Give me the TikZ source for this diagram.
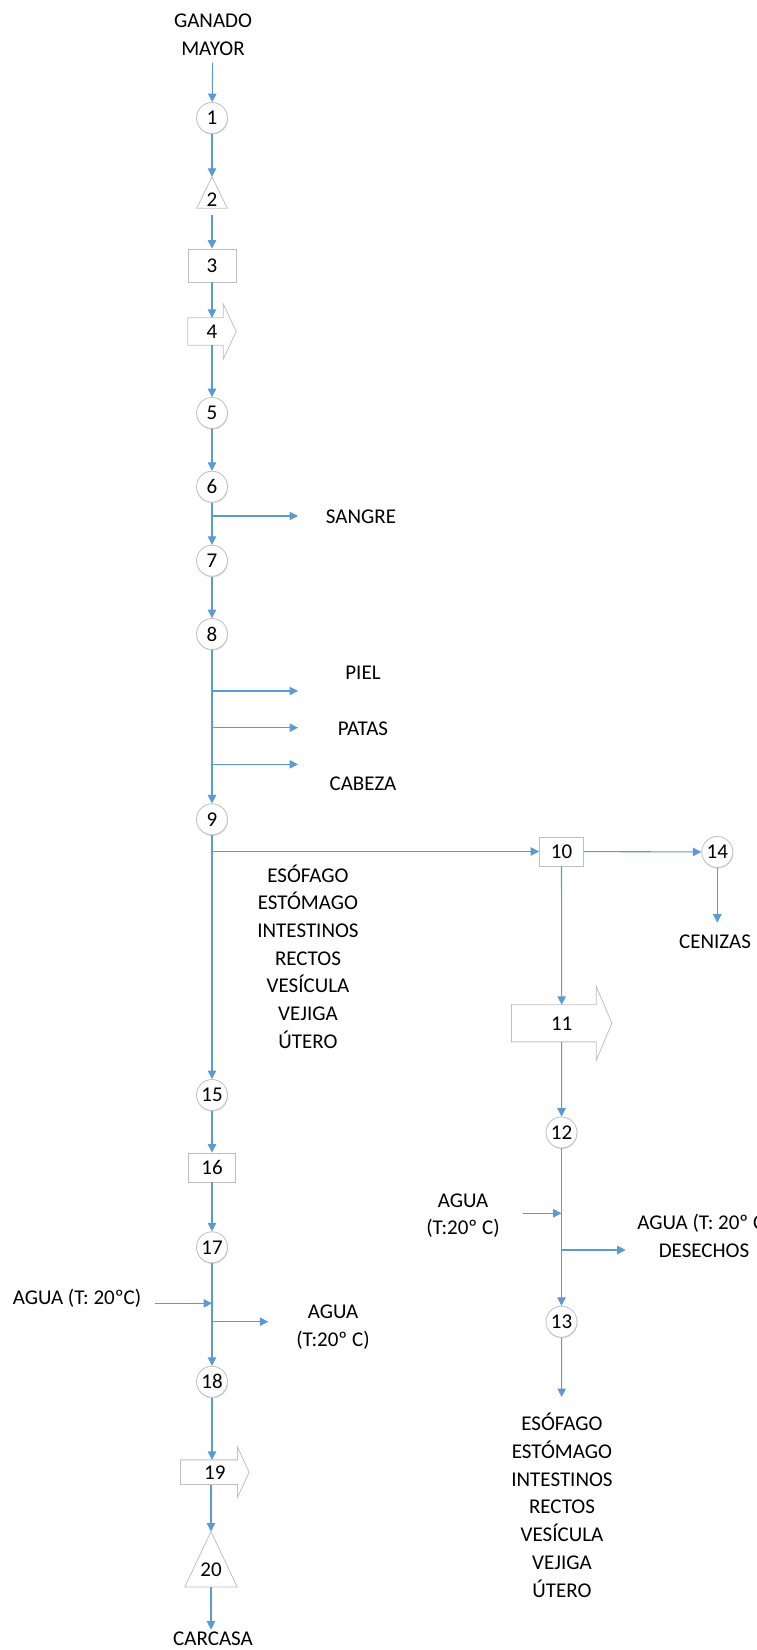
\documentclass[tikz,border=0pt]{standalone}
\usepackage{fontspec}
\setmainfont{Carlito}
\usetikzlibrary{arrows.meta,calc,shadows}
\definecolor{flow}{HTML}{5B9BD5}
\definecolor{edgegray}{HTML}{BFBFBF}
\begin{document}
\begin{tikzpicture}[x=1pt,y=-1pt,
  font=\fontsize{21}{27.7}\selectfont,
  flowline/.style={draw=flow, line width=1.1pt, -{Triangle[length=8.5pt,width=8.5pt]}},
  softshadow/.style={drop shadow={shadow xshift=0.5pt, shadow yshift=-1.2pt, opacity=0.25, fill=black!50}},
  circ/.style={circle, draw=edgegray, line width=0.8pt, fill=white, minimum size=31pt, inner sep=0pt, softshadow},
  boxn/.style={rectangle, draw=edgegray, line width=0.8pt, fill=white, inner sep=0pt, softshadow},
  shp/.style={draw=edgegray, line width=0.8pt},
  lbl/.style={align=center, inner sep=2pt},
  bl/.style={anchor=base, inner sep=2pt}]
\useasboundingbox (0,0) rectangle (757,1650);
\clip (0,0) rectangle (757,1650);

% ---- main column
\node[lbl] (ganado) at (213,34.6) {GANADO\\MAYOR};
\node[circ] (n1) at (212,118) {1};
\node[inner sep=0pt, minimum width=30pt, text height=29pt, text depth=2pt] (n2) at (212,192.5) {2};
\draw[shp] (n2.south west) -- (n2.north) -- (n2.south east) -- cycle;
\node[boxn, minimum width=48pt, minimum height=33pt] (n3) at (212,265.5) {3};
\node[inner sep=0pt, minimum width=48pt, minimum height=27pt] (n4) at (212,331.5) {4};
\draw[shp] (n4.north west) -- ($(n4.north east)+(-13,0)$) -- ++(0,-14) -- (n4.east)
  -- ($(n4.south east)+(-13,14)$) -- ++(0,-14) -- (n4.south west) -- cycle;
\node[circ] (n5) at (212,413) {5};
\node[circ] (n6) at (212,486.7) {6};
\node[circ] (n7) at (212,560.7) {7};
\node[circ] (n8) at (212,634) {8};
\node[circ] (n9) at (212,819.3) {9};
\node[circ] (n15) at (212,1095) {15};
\node[boxn, minimum width=47pt, minimum height=29pt] (n16) at (212,1167.5) {16};
\node[circ] (n17) at (212,1247.3) {17};
\node[circ] (n18) at (212,1381.7) {18};
\node[inner sep=0pt, minimum width=68.3pt, minimum height=24.3pt] (n19) at (214.8,1472.2) {19};
\draw[shp] (n19.north west) -- ($(n19.north east)+(-11.7,0)$) -- ++(0,-13) -- (n19.east)
  -- ($(n19.south east)+(-11.7,13)$) -- ++(0,-13) -- (n19.south west) -- cycle;
\node[inner sep=0pt, minimum width=52pt, text height=45pt, text depth=10pt] (n20) at (211,1559.2) {20};
\draw[shp] (n20.south west) -- (n20.north) -- (n20.south east) -- cycle;
\node[bl] (carcasa) at (213,1645.5) {CARCASA};

% ---- side labels, main column
\node[bl] (sangre) at (361,523.3) {SANGRE};
\node[bl] (piel) at (363,679) {PIEL};
\node[bl] (patas) at (363,735) {PATAS};
\node[bl] (cabeza) at (363,790.7) {CABEZA};
\node[lbl] (organs1) at (308,956.5) {ESÓFAGO\\ESTÓMAGO\\INTESTINOS\\RECTOS\\VESÍCULA\\VEJIGA\\ÚTERO};
\node[bl] (agua1) at (77,1304.5) {AGUA (T: 20ºC)};
\node[lbl] (agua2) at (333,1327) {AGUA\\(T:20º C)};

% ---- right column
\node[boxn, minimum width=44pt, minimum height=29pt] (n10) at (561.5,851.5) {10};
\node[circ] (n14) at (717.3,852) {14};
\node[bl] (cenizas) at (715,948) {CENIZAS};
\node[inner sep=0pt, minimum width=100pt, minimum height=36.7pt] (n11) at (561.7,1023.3) {11};
\draw[shp] (n11.north west) -- ($(n11.north east)+(-15.7,0)$) -- ++(0,-18.5) -- (n11.east)
  -- ($(n11.south east)+(-15.7,18.5)$) -- ++(0,-18.5) -- (n11.south west) -- cycle;
\node[circ] (n12) at (561.5,1132.5) {12};
\node[circ] (n13) at (561.5,1321.7) {13};
\node[lbl] (agua3) at (463,1215.6) {AGUA\\(T:20º C)};
\node[lbl] (agua4) at (704,1235.9) {AGUA (T: 20º C)\\DESECHOS};
\node[lbl] (organs2) at (562,1505.2) {ESÓFAGO\\ESTÓMAGO\\INTESTINOS\\RECTOS\\VESÍCULA\\VEJIGA\\ÚTERO};

% ---- branch points
\coordinate (s6) at (212,516);   \coordinate (e6) at (298,516);
\coordinate (s8a) at (212,691);  \coordinate (e8a) at (298,691);
\coordinate (s8b) at (212,727.7); \coordinate (e8b) at (298,727.7);
\coordinate (s8c) at (212,764.3); \coordinate (e8c) at (298,764.3);
\coordinate (b9) at (212,851.5);
\coordinate (w1s) at (523.3,1213.3); \coordinate (w1e) at (561.5,1213.3);
\coordinate (w2s) at (561.5,1250);   \coordinate (w2e) at (625.7,1250);
\coordinate (w3s) at (155,1303.3);   \coordinate (w3e) at (212,1303.3);
\coordinate (w4s) at (212,1321.7);   \coordinate (w4e) at (268.3,1321.7);

% ---- connectors
\draw[flowline, shorten <=5pt] (ganado) -- (n1);
\draw[flowline] (n1) -- (n2);
\draw[flowline, shorten <=7pt] (n2) -- (n3);
\draw[flowline] (n3) -- (n4);
\draw[flowline] (n4) -- (n5);
\draw[flowline] (n5) -- (n6);
\draw[flowline] (n6) -- (n7);
\draw[flowline] (n7) -- (n8);
\draw[flowline] (n8) -- (n9);
\draw[flowline] (n9) -- (n15);
\draw[flowline] (n15) -- (n16);
\draw[flowline] (n16) -- (n17);
\draw[flowline] (n17) -- (n18);
\draw[flowline] (n18) -- (n18 |- n19.north);
\draw[flowline] (n20 |- n19.south) -- (n20.north);
\draw[flowline] (n20) -- (n20 |- carcasa.north);

\draw[flowline] (s6) -- (e6);
\draw[flowline] (s8a) -- (e8a);
\draw[flowline] (s8b) -- (e8b);
\draw[flowline] (s8c) -- (e8c);
\draw[flowline] (b9) -- (n10);
\draw[flowline] (n10) -- (n14);
\draw[flowline, shorten >=9.5pt] (n14) -- (n14 |- cenizas.north);
\draw[flowline] (n10) -- (n11);
\draw[flowline] (n11) -- (n12);
\draw[flowline] (n12) -- (n13);
\draw[flowline, shorten >=14pt] (n13) -- (organs2);
\draw[flowline] (w1s) -- (w1e);
\draw[flowline] (w2s) -- (w2e);
\draw[flowline] (w3s) -- (w3e);
\draw[flowline] (w4s) -- (w4e);
\end{tikzpicture}
\end{document}
